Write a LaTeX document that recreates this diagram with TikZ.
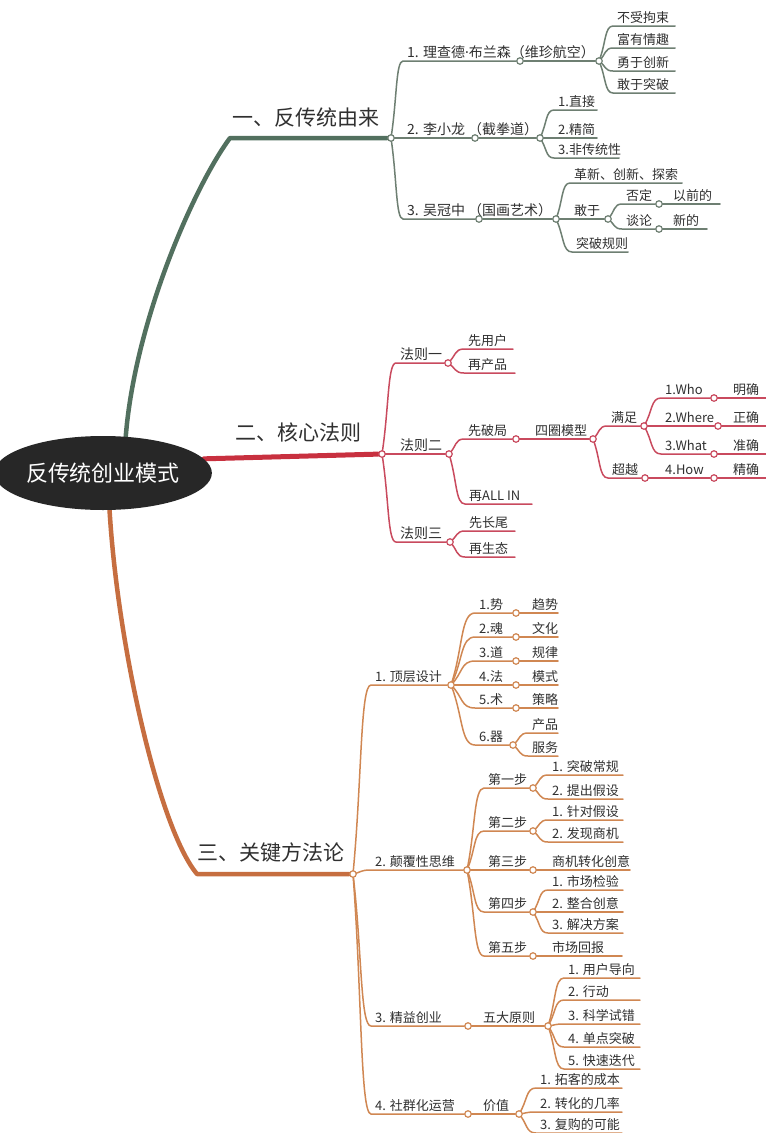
\documentclass[tikz,border=0pt]{standalone}
\usepackage{fontspec}
\setmainfont{Noto Sans CJK SC}
\newfontfamily\latinfont{Noto Sans}
\usetikzlibrary{calc,shapes.geometric}
\pgfdeclarelayer{bg}
\pgfsetlayers{bg,main}
\definecolor{txt}{HTML}{303030}
\definecolor{gmain}{HTML}{52705F}
\definecolor{gsub}{HTML}{6E7F72}
\definecolor{rmain}{HTML}{C8303F}
\definecolor{rsub}{HTML}{C94A5E}
\definecolor{omain}{HTML}{C66E40}
\definecolor{osub}{HTML}{D08752}
\definecolor{ellfill}{HTML}{272727}
\tikzset{
  lab/.style={inner sep=0pt, anchor=base west, text=txt, font=\fontsize{13}{15}\selectfont},
  big/.style={font=\fontsize{14}{16}\selectfont},
  head/.style={inner sep=0pt, anchor=base west, text=txt, font=\fontsize{21}{24}\selectfont},
  rootnode/.style={ellipse, fill=ellfill, text=white, minimum width=194pt, minimum height=74pt, inner sep=0pt, font=\fontsize{22}{26}\selectfont},
  jn/.style={circle, inner sep=0pt, minimum size=6.5pt, fill=white, line width=1.2pt},
  subline/.style={line width=1.5pt, line cap=round},
  mainline/.style={line width=4.5pt, line cap=round, line join=round},
}
% \bcirc[textopts]{color}{parent}{name}{textx}{y}{endx}{text}
\newcommand\bcirc[8][]{%
  \coordinate (#4s) at (#5-4,#6);
  \node[lab,#1] (#4t) at (#5,#6-4) {#8};
  \node[jn,draw=#2] (#4) at (#7,#6) {};
  \begin{pgfonlayer}{bg}
  \draw[subline,draw=#2] (#3.center) .. controls ($(#3.center)!0.5!(#4s)$) and ($(#3.center|-#4s)!0.4!(#4s)$) .. (#4s) -- (#4);
  \end{pgfonlayer}}
% \bfree[textopts]{color}{parent}{name}{textx}{y}{endx}{text}
\newcommand\bfree[8][]{%
  \coordinate (#4s) at (#5-4,#6);
  \node[lab,#1] (#4t) at (#5,#6-4) {#8};
  \coordinate (#4) at (#7,#6);
  \begin{pgfonlayer}{bg}
  \draw[subline,draw=#2] (#3.center) .. controls ($(#3.center)!0.5!(#4s)$) and ($(#3.center|-#4s)!0.4!(#4s)$) .. (#4s) -- (#4);
  \end{pgfonlayer}}
% \seg{color}{from}{name}{x}{y}
\newcommand\seg[5]{%
  \node[jn,draw=#1] (#3) at (#4,#5) {};
  \begin{pgfonlayer}{bg}
  \draw[subline,draw=#1] (#2) -- (#3);
  \end{pgfonlayer}}
\begin{document}
\begin{tikzpicture}[x=1pt,y=-1pt]
\begin{pgfonlayer}{bg}
\fill[white] (0,0) rectangle (766,1133);
\end{pgfonlayer}
\useasboundingbox (0,0) rectangle (766,1133);

% root and hubs
\node[rootnode] (root) at (103,473) {反传统创业模式};
\node[jn,draw=gsub] (H1) at (391,138) {};
\node[jn,draw=rsub] (H2) at (382,454) {};
\node[jn,draw=osub] (H3) at (353,874) {};
\node[head] (T1) at (232,125) {一、反传统由来};
\node[head] (T2) at (235,440) {二、核心法则};
\node[head] (T3) at (197,860) {三、关键方法论};
\coordinate (g1) at (230,138);
\coordinate (o1) at (197,874);
\begin{pgfonlayer}{bg}
\draw[mainline,draw=gmain] (root.58) .. controls (135,320) and (195,185) .. (g1) -- (H1);
\draw[mainline,draw=rmain,line width=5pt] (root.8) -- (H2);
\draw[mainline,draw=omain] (root.280) .. controls (118,650) and (160,830) .. (o1) -- (H3);
\end{pgfonlayer}

% ---------- branch 1 ----------
\bcirc[big]{gsub}{H1}{A}{407}{61}{520}{1. 理查德{\latinfont ·}布兰森（维珍航空）}
\seg{gsub}{A}{A2}{599}{61}
\bfree{gsub}{A2}{a1}{617}{26}{675}{不受拘束}
\bfree{gsub}{A2}{a2}{617}{48}{675}{富有情趣}
\bfree{gsub}{A2}{a3}{617}{71}{675}{勇于创新}
\bfree{gsub}{A2}{a4}{617}{93}{675}{敢于突破}
\bcirc[big]{gsub}{H1}{B}{407}{138}{475}{2. 李小龙 （截拳道）}
\seg{gsub}{B}{B2}{540}{138}
\bfree{gsub}{B2}{b1}{558}{110}{597}{1.直接}
\bfree{gsub}{B2}{b2}{558}{138}{597}{2.精简}
\bfree{gsub}{B2}{b3}{558}{158}{619}{3.非传统性}
\bcirc[big]{gsub}{H1}{C}{407}{219}{479}{3. 吴冠中 （国画艺术）}
\seg{gsub}{C}{C2}{556}{219}
\bfree{gsub}{C2}{c1}{574}{183}{682}{革新、创新、探索}
\bcirc{gsub}{C2}{C3}{574}{219}{608}{敢于}
\bcirc{gsub}{C3}{C4}{626}{204}{659}{否定}
\bfree{gsub}{C4}{c4}{673}{204}{720}{以前的}
\bcirc{gsub}{C3}{C5}{626}{229}{659}{谈论}
\bfree{gsub}{C5}{c5}{673}{229}{707}{新的}
\bfree{gsub}{C2}{c6}{576}{252}{628}{突破规则}

% ---------- branch 2 ----------
\bcirc[big]{rsub}{H2}{R1}{400}{363}{448}{法则一}
\bfree{rsub}{R1}{r11}{468}{349}{513}{先用户}
\bfree{rsub}{R1}{r12}{468}{373}{515}{再产品}
\bcirc[big]{rsub}{H2}{R2}{400}{454}{449}{法则二}
\bcirc{rsub}{R2}{R21}{468}{439}{516}{先破局}
\bcirc{rsub}{R21}{R22}{535}{439}{593}{四圈模型}
\bcirc{rsub}{R22}{R23}{611}{426}{644}{满足}
\bcirc{rsub}{R23}{W1}{665}{398}{714}{1.Who}
\bfree{rsub}{W1}{w1}{733}{398}{766}{明确}
\bcirc{rsub}{R23}{W2}{665}{426}{718}{2.Where}
\bfree{rsub}{W2}{w2}{733}{426}{766}{正确}
\bcirc{rsub}{R23}{W3}{665}{454}{714}{3.What}
\bfree{rsub}{W3}{w3}{733}{454}{766}{准确}
\bcirc{rsub}{R22}{R24}{612}{478}{645}{超越}
\bcirc{rsub}{R24}{W4}{665}{478}{714}{4.How}
\bfree{rsub}{W4}{w4}{733}{478}{766}{精确}
\bfree{rsub}{R2}{r25}{469}{504}{532}{再ALL IN}
\bcirc[big]{rsub}{H2}{R3}{400}{542}{450}{法则三}
\bfree{rsub}{R3}{r31}{469}{531}{515}{先长尾}
\bfree{rsub}{R3}{r32}{469}{557}{515}{再生态}

% ---------- branch 3 ----------
\bcirc{osub}{H3}{O1}{375}{685}{451}{1. 顶层设计}
\bcirc{osub}{O1}{O11}{479}{613}{516}{1.势}
\bfree{osub}{O11}{o11}{532}{613}{558}{趋势}
\bcirc{osub}{O1}{O12}{479}{637}{516}{2.魂}
\bfree{osub}{O12}{o12}{532}{637}{558}{文化}
\bcirc{osub}{O1}{O13}{479}{661}{516}{3.道}
\bfree{osub}{O13}{o13}{532}{661}{558}{规律}
\bcirc{osub}{O1}{O14}{479}{685}{516}{4.法}
\bfree{osub}{O14}{o14}{532}{685}{558}{模式}
\bcirc{osub}{O1}{O15}{479}{708}{516}{5.术}
\bfree{osub}{O15}{o15}{532}{708}{558}{策略}
\bcirc{osub}{O1}{O16}{479}{745}{513}{6.器}
\bfree{osub}{O16}{o161}{532}{733}{558}{产品}
\bfree{osub}{O16}{o162}{532}{756}{558}{服务}

\bcirc{osub}{H3}{O2}{375}{870}{467}{2. 颠覆性思维}
\bcirc{osub}{O2}{S1}{488}{788}{533}{第一步}
\bfree{osub}{S1}{s11}{552}{775}{623}{1. 突破常规}
\bfree{osub}{S1}{s12}{552}{799}{623}{2. 提出假设}
\bcirc{osub}{O2}{S2}{488}{831}{533}{第二步}
\bfree{osub}{S2}{s21}{552}{820}{623}{1. 针对假设}
\bfree{osub}{S2}{s22}{552}{842}{623}{2. 发现商机}
\bcirc{osub}{O2}{S3}{488}{870}{533}{第三步}
\bfree{osub}{S3}{s31}{552}{870}{630}{商机转化创意}
\bcirc{osub}{O2}{S4}{488}{912}{533}{第四步}
\bfree{osub}{S4}{s41}{552}{890}{623}{1. 市场检验}
\bfree{osub}{S4}{s42}{552}{912}{623}{2. 整合创意}
\bfree{osub}{S4}{s43}{552}{933}{623}{3. 解决方案}
\bcirc{osub}{O2}{S5}{488}{956}{533}{第五步}
\bfree{osub}{S5}{s51}{552}{956}{622}{市场回报}

\bcirc{osub}{H3}{O3}{375}{1026}{468}{3. 精益创业}
\bcirc{osub}{O3}{O31}{483}{1026}{548}{五大原则}
\bfree{osub}{O31}{p1}{568}{978}{640}{1. 用户导向}
\bfree{osub}{O31}{p2}{568}{1000}{640}{2. 行动}
\bfree{osub}{O31}{p3}{568}{1024}{640}{3. 科学试错}
\bfree{osub}{O31}{p4}{568}{1047}{640}{4. 单点突破}
\bfree{osub}{O31}{p5}{568}{1069}{640}{5. 快速迭代}

\bcirc{osub}{H3}{O4}{375}{1114}{468}{4. 社群化运营}
\bcirc{osub}{O4}{O41}{483}{1114}{519}{价值}
\bfree{osub}{O41}{v1}{540}{1088}{622}{1. 拓客的成本}
\bfree{osub}{O41}{v2}{540}{1112}{622}{2. 转化的几率}
\bfree{osub}{O41}{v3}{540}{1133}{622}{3. 复购的可能}
\end{tikzpicture}
\end{document}
